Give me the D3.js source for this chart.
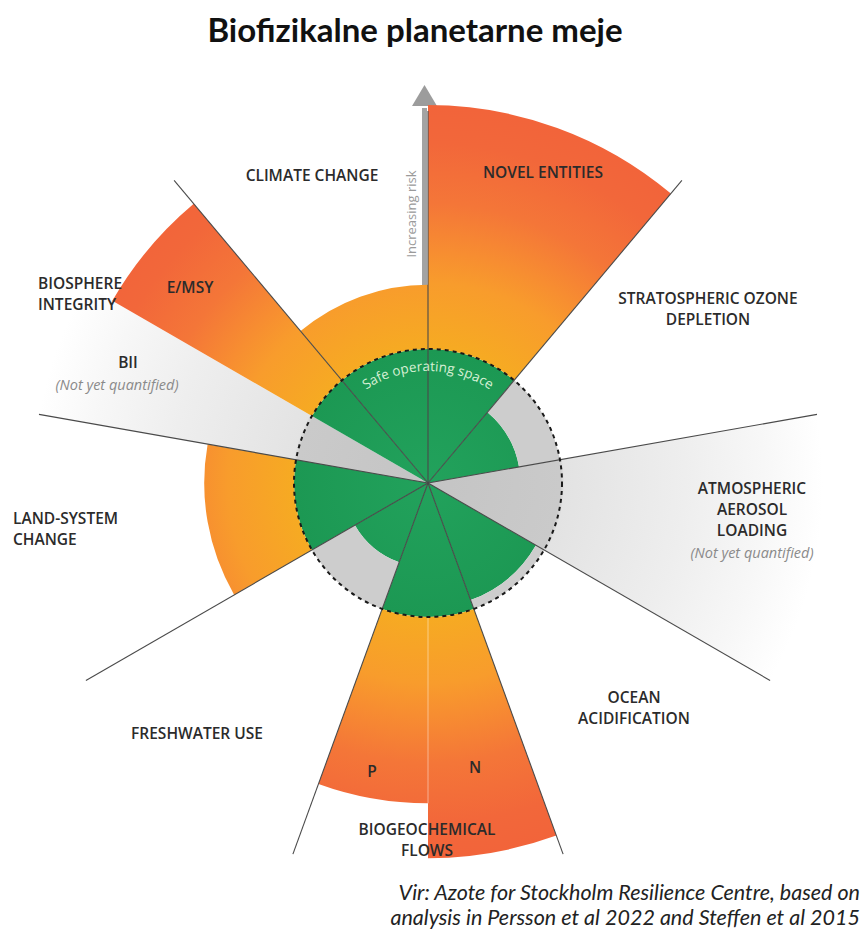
<!DOCTYPE html>
<html>
<head>
<meta charset="utf-8">
<script src="https://cdn.jsdelivr.net/npm/d3@7"></script>
<style>
  body { margin: 0; background: #fff; }
</style>
</head>
<body>
<div id="chart"></div>
<script>
// Width and height of the page
const width = 864;
const height = 935;

// Planetary boundary segments (angles in degrees, clockwise from north)
const segments = ["Novel entities", "Stratospheric ozone depletion", "Atmospheric aerosol loading",
  "Ocean acidification", "N", "P", "Freshwater use", "Land-system change", "BII", "E/MSY", "Climate change"];
const startDeg = [0, 40, 80, 120, 160, 180, 200, 240, 280, 300, 320];
const endDeg = [40, 80, 120, 160, 180, 200, 240, 280, 300, 320, 360];
// control variable relative to the boundary (1 = edge of safe operating space), null = not yet quantified
const status = [2.82, 0.69, null, 0.93, 2.8, 2.39, 0.63, 1.67, null, 2.72, 1.48];

// divider lines between the nine boundaries
const spokesDeg = [0, 40, 80, 120, 160, 200, 240, 280, 320];

// Text labels
const title = "Biofizikalne planetarne meje";
const sourceLines = ["Vir: Azote for Stockholm Resilience Centre, based on",
  "analysis in Persson et al 2022 and Steffen et al 2015"];
const labels = [
  { lines: ["NOVEL ENTITIES"], x: 543, y: 178, anchor: "middle" },
  { lines: ["CLIMATE CHANGE"], x: 312, y: 181, anchor: "middle" },
  { lines: ["STRATOSPHERIC OZONE", "DEPLETION"], x: 708, y: 304, anchor: "middle" },
  { lines: ["ATMOSPHERIC", "AEROSOL", "LOADING"], x: 752, y: 494, anchor: "middle", note: "(Not yet quantified)", noteX: 752 },
  { lines: ["OCEAN", "ACIDIFICATION"], x: 634, y: 703, anchor: "middle" },
  { lines: ["FRESHWATER USE"], x: 197, y: 739, anchor: "middle" },
  { lines: ["BIOGEOCHEMICAL", "FLOWS"], x: 427, y: 835, anchor: "middle" },
  { lines: ["LAND-SYSTEM", "CHANGE"], x: 13, y: 524, anchor: "start" },
  { lines: ["BIOSPHERE", "INTEGRITY"], x: 38, y: 289, anchor: "start" },
  { lines: ["E/MSY"], x: 190, y: 293, anchor: "middle" },
  { lines: ["BII"], x: 128, y: 368, anchor: "middle", note: "(Not yet quantified)", noteX: 117 },
  { lines: ["P"], x: 372, y: 777, anchor: "middle" },
  { lines: ["N"], x: 475, y: 773, anchor: "middle" }
];

const cx = 428, cy = 483;
const safeR = 134;
const spokeR = 395;

// radial scale: status 1 sits on the dashed boundary circle
const r = d3.scaleLinear().domain([0, 1]).range([0, safeR]);
const rad = d => d * Math.PI / 180;

const svg = d3.select("#chart")
  .append("svg")
  .attr("width", width)
  .attr("height", height);

const defs = svg.append("defs");

// orange-to-red gradient beyond the boundary
const hot = defs.append("radialGradient")
  .attr("id", "hot")
  .attr("gradientUnits", "userSpaceOnUse")
  .attr("cx", 0).attr("cy", 0).attr("r", 400);
[[0.33, "#f6ab22"], [0.5, "#f89c2c"], [0.58, "#f78d31"], [0.7, "#f47638"], [0.85, "#f2673a"], [1, "#f2623a"]]
  .forEach(s => hot.append("stop").attr("offset", s[0]).attr("stop-color", s[1]));

// fading grey for not yet quantified wedges
const fog = defs.append("radialGradient")
  .attr("id", "fog")
  .attr("gradientUnits", "userSpaceOnUse")
  .attr("cx", 0).attr("cy", 0).attr("r", spokeR);
[[0, "#c4c4c4"], [0.335, "#cacaca"], [0.345, "#e3e3e3"], [0.65, "#eeeeee"], [0.85, "#f7f7f7"], [1, "#ffffff"]]
  .forEach(s => fog.append("stop").attr("offset", s[0]).attr("stop-color", s[1]));

// green safe space
const safe = defs.append("radialGradient")
  .attr("id", "safe")
  .attr("gradientUnits", "userSpaceOnUse")
  .attr("cx", 0).attr("cy", 0).attr("r", safeR);
[[0, "#22a25c"], [1, "#1c9853"]]
  .forEach(s => safe.append("stop").attr("offset", s[0]).attr("stop-color", s[1]));

const g = svg.append("g").attr("transform", `translate(${cx},${cy})`);

// Increasing risk arrow (drawn under the segments)
g.append("rect")
  .attr("x", -6).attr("y", -375)
  .attr("width", 5).attr("height", 375)
  .attr("fill", "#a3a3a3");
g.append("path")
  .attr("d", "M-3.5,-398 L-16,-377 L9,-377 Z")
  .attr("fill", "#9c9c9c");

const arc = d3.arc();
const data = segments.map((name, i) => ({
  name, v: status[i], a0: rad(startDeg[i]), a1: rad(endDeg[i])
}));

// not yet quantified wedges
g.selectAll("path.fog")
  .data(data.filter(d => d.v === null))
  .enter().append("path")
  .attr("class", "fog")
  .attr("d", d => arc({ innerRadius: 0, outerRadius: spokeR, startAngle: d.a0, endAngle: d.a1 }))
  .attr("fill", "url(#fog)");

// green part, inside the safe operating space
g.selectAll("path.green")
  .data(data.filter(d => d.v !== null))
  .enter().append("path")
  .attr("class", "green")
  .attr("d", d => arc({ innerRadius: 0, outerRadius: r(Math.min(d.v, 1)), startAngle: d.a0, endAngle: d.a1 }))
  .attr("fill", "url(#safe)");

// grey remainder up to the boundary
g.selectAll("path.rest")
  .data(data.filter(d => d.v !== null && d.v < 1))
  .enter().append("path")
  .attr("class", "rest")
  .attr("d", d => arc({ innerRadius: r(d.v), outerRadius: r(1), startAngle: d.a0, endAngle: d.a1 }))
  .attr("fill", "#cdcdcd");

// transgressed part
g.selectAll("path.over")
  .data(data.filter(d => d.v !== null && d.v > 1))
  .enter().append("path")
  .attr("class", "over")
  .attr("d", d => arc({ innerRadius: r(1), outerRadius: r(d.v), startAngle: d.a0, endAngle: d.a1 }))
  .attr("fill", "url(#hot)");

// thin light seam between P and N
const pIdx = segments.indexOf("P"), nIdx = segments.indexOf("N");
g.append("line")
  .attr("x1", 0).attr("y1", r(1))
  .attr("x2", 0).attr("y2", r(Math.min(status[pIdx], status[nIdx])))
  .attr("stroke", "#ffffff").attr("stroke-opacity", 0.45).attr("stroke-width", 1);

// spokes
g.selectAll("line.spoke")
  .data(spokesDeg)
  .enter().append("line")
  .attr("class", "spoke")
  .attr("x1", 0).attr("y1", 0)
  .attr("x2", d => d === 0 ? 0 : spokeR * Math.sin(rad(d)))
  .attr("y2", d => d === 0 ? -372 : -spokeR * Math.cos(rad(d)))
  .attr("stroke", "#4a4a4a")
  .attr("stroke-width", 1.1);

// dashed boundary circle
g.append("circle")
  .attr("r", safeR)
  .attr("fill", "none")
  .attr("stroke", "#1a1a1a")
  .attr("stroke-width", 2)
  .attr("stroke-dasharray", "4,4");

// Safe operating space text on arc
const tr = 112;
defs.append("path")
  .attr("id", "safeArc")
  .attr("d", `M${tr * Math.sin(rad(-45))},${-tr * Math.cos(rad(-45))} A${tr},${tr} 0 0 1 ${tr * Math.sin(rad(45))},${-tr * Math.cos(rad(45))}`);
g.append("text")
  .attr("font-family", "'Open Sans', sans-serif")
  .attr("font-size", 13.5)
  .attr("fill", "#d6f0d4")
  .append("textPath")
  .attr("href", "#safeArc")
  .attr("startOffset", "50%")
  .attr("text-anchor", "middle")
  .text("Safe operating space");

// Increasing risk label
svg.append("text")
  .attr("transform", `translate(${cx - 12},214) rotate(-90)`)
  .attr("text-anchor", "middle")
  .attr("font-family", "'Open Sans', sans-serif")
  .attr("font-size", 13)
  .attr("fill", "#9a9a9a")
  .text("Increasing risk");

// Title
svg.append("text")
  .attr("x", 415).attr("y", 42)
  .attr("text-anchor", "middle")
  .attr("font-family", "Lato, sans-serif")
  .attr("font-weight", 700)
  .attr("font-size", 33)
  .attr("fill", "#111")
  .text(title);

// Segment labels
const lab = svg.append("g")
  .attr("font-family", "'Open Sans', sans-serif")
  .attr("font-weight", 600)
  .attr("font-size", 15.5)
  .attr("fill", "#2b2b2b");

labels.forEach(l => {
  l.lines.forEach((t, k) => {
    lab.append("text")
      .attr("x", l.x).attr("y", l.y + k * 21)
      .attr("text-anchor", l.anchor)
      .text(t);
  });
  if (l.note) {
    lab.append("text")
      .attr("x", l.noteX).attr("y", l.y + l.lines.length * 21 + 1)
      .attr("text-anchor", "middle")
      .attr("font-weight", 400)
      .attr("font-style", "italic")
      .attr("font-size", 14.5)
      .attr("fill", "#8a8a8a")
      .text(l.note);
  }
});

// Source
svg.selectAll("text.source")
  .data(sourceLines)
  .enter().append("text")
  .attr("class", "source")
  .attr("x", 860)
  .attr("y", (d, i) => 900 + i * 25)
  .attr("text-anchor", "end")
  .attr("font-family", "Lato, sans-serif")
  .attr("font-style", "italic")
  .attr("font-size", 21.5)
  .attr("fill", "#222")
  .text(d => d);
</script>
</body>
</html>
